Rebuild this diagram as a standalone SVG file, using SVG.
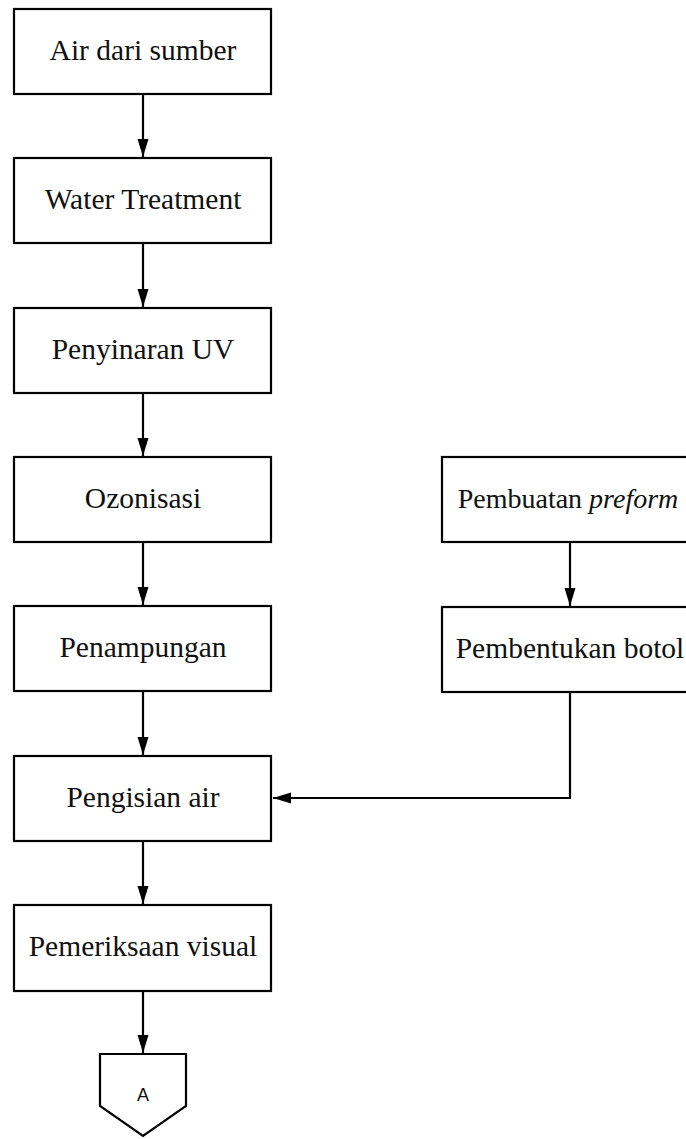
<svg xmlns="http://www.w3.org/2000/svg" width="686" height="1139" viewBox="0 0 686 1139">
<style>
.box{fill:#fff;stroke:#000;stroke-width:2.2}
.t{font-family:"Liberation Serif",serif;font-size:29.5px;fill:#111;text-anchor:middle}
.it{font-style:italic}
.c{fill:none;stroke:#000;stroke-width:2.2}
.s{font-family:"Liberation Sans",sans-serif;font-size:18px;fill:#111;text-anchor:middle}
</style>
<defs>
<marker id="ah" markerUnits="userSpaceOnUse" markerWidth="18" markerHeight="12" refX="18" refY="6" orient="auto">
<path d="M0,0.5 L18,6 L0,11.5 z" fill="#000"/>
</marker>
</defs>
<rect width="686" height="1139" fill="#fff"/>
<g id="n1"><rect class="box" x="14" y="9" width="257" height="85"/><text class="t" x="143" y="60">Air dari sumber</text></g>
<g id="n2"><rect class="box" x="14" y="158" width="257" height="85"/><text class="t" x="143" y="209">Water Treatment</text></g>
<g id="n3"><rect class="box" x="14" y="308" width="257" height="85"/><text class="t" x="143" y="359">Penyinaran UV</text></g>
<g id="n4"><rect class="box" x="14" y="457" width="257" height="85"/><text class="t" x="143" y="508">Ozonisasi</text></g>
<g id="n5"><rect class="box" x="14" y="606" width="257" height="85"/><text class="t" x="143" y="657">Penampungan</text></g>
<g id="n6"><rect class="box" x="14" y="756" width="257" height="85"/><text class="t" x="143" y="807">Pengisian air</text></g>
<g id="n7"><rect class="box" x="14" y="905" width="257" height="86"/><text class="t" x="143" y="956">Pemeriksaan visual</text></g>
<g id="n8"><rect class="box" x="442" y="457" width="257" height="85"/><text class="t" x="568" y="508" style="font-size:28px">Pembuatan <tspan class="it">preform</tspan></text></g>
<g id="n9"><rect class="box" x="442" y="607" width="257" height="85"/><text class="t" x="570" y="658">Pembentukan botol</text></g>
<g id="n10"><path class="box" d="M100,1054 L186,1054 L186,1106 L143,1136 L100,1106 Z"/><text class="s" x="143" y="1101">A</text></g>
<g id="connectors">
<path class="c" d="M143,94 V157" marker-end="url(#ah)"/>
<path class="c" d="M143,243 V307" marker-end="url(#ah)"/>
<path class="c" d="M143,393 V456" marker-end="url(#ah)"/>
<path class="c" d="M143,542 V605" marker-end="url(#ah)"/>
<path class="c" d="M143,691 V755" marker-end="url(#ah)"/>
<path class="c" d="M143,841 V904" marker-end="url(#ah)"/>
<path class="c" d="M143,991 V1053" marker-end="url(#ah)"/>
<path class="c" d="M570,542 V606" marker-end="url(#ah)"/>
<path class="c" d="M570,692 V798 H273" marker-end="url(#ah)"/>
</g>
</svg>
